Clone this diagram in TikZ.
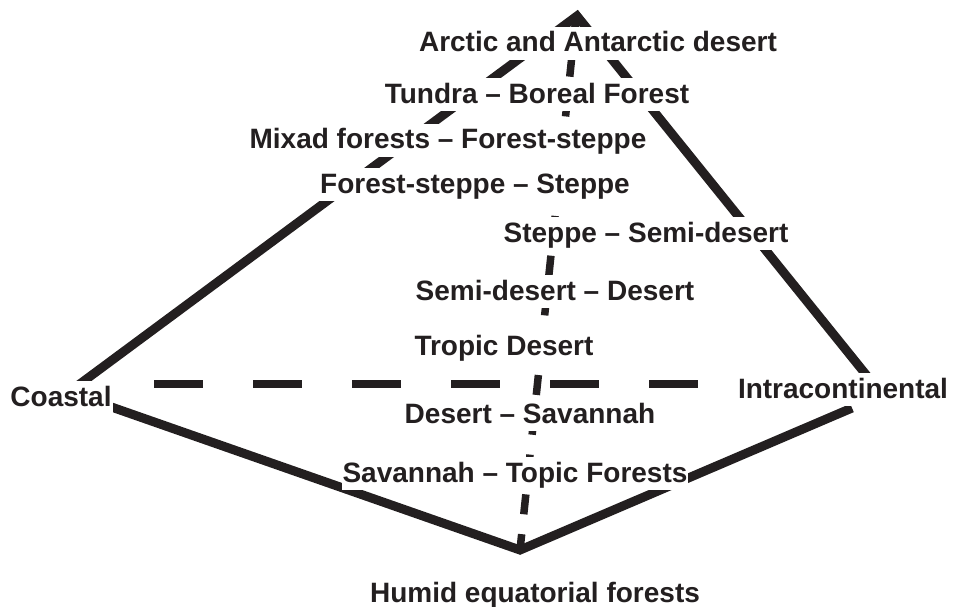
\documentclass[tikz,border=0pt]{standalone}
\usepackage{fontspec}
\setmainfont{Liberation Sans}
\definecolor{ink}{RGB}{35,31,32}
\begin{document}
\begin{tikzpicture}[x=1pt,y=-1pt,
  solidline/.style={draw=ink,line width=9pt,line join=miter,miter limit=10},
  vdash/.style={draw=ink,line width=7.5pt,dash pattern=on 20pt off 20pt},
  hdash/.style={draw=ink,line width=8pt,dash pattern=on 49pt off 50pt},
  lbl/.style={fill=white,text=ink,inner xsep=1pt,inner ysep=2pt,
    text height=23pt,text depth=6pt,anchor=base,
    font=\fontsize{28}{30}\selectfont\bfseries}]
\useasboundingbox (0,0) rectangle (955,607);
% corner coordinates
\coordinate (T) at (577,16);
\coordinate (Lt) at (69,392);
\coordinate (Rt) at (880,392);
\coordinate (Lb) at (100,403);
\coordinate (B) at (520,550);
\coordinate (Rb) at (852,408);
\coordinate (V0) at (576,17);
\coordinate (H0) at (154,384);
\coordinate (H1) at (700,384);
% lines
\draw[vdash] (V0) -- (B);
\draw[hdash] (H0) -- (H1);
\draw[solidline] (Lt) -- (T) -- (Rt);
\draw[solidline] (Lb) -- (B) -- (Rb);
% labels
\node[lbl] (arctic) at (598,52) {Arctic and Antarctic desert};
\node[lbl] (tundra) at (537,103) {Tundra – Boreal Forest};
\node[lbl] (mixed) at (448,149) {Mixad forests – Forest-steppe};
\node[lbl] (fsteppe) at (475,193) {Forest-steppe – Steppe};
\node[lbl] (steppe) at (646,242) {Steppe – Semi-desert};
\node[lbl] (semi) at (555,300) {Semi-desert – Desert};
\node[lbl] (tropic) at (504,355) {Tropic Desert};
\node[lbl] (dsav) at (530,423) {Desert – Savannah};
\node[lbl] (savtf) at (515,482) {Savannah – Topic Forests};
\node[lbl] (humid) at (535,602) {Humid equatorial forests};
\node[lbl] (coastal) at (61,406) {Coastal};
\node[lbl] (intra) at (843,398) {Intracontinental};
\end{tikzpicture}
\end{document}
